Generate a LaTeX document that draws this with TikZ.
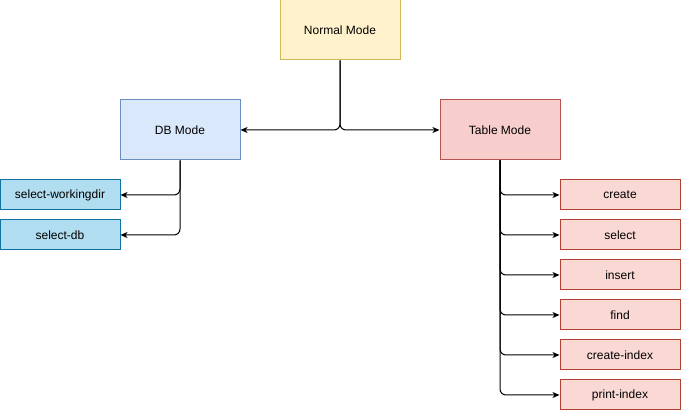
\documentclass[tikz,border=0pt]{standalone}
\usepackage{fontspec}
\setmainfont{Liberation Sans}
\usetikzlibrary{arrows.meta}
\definecolor{nmfill}{HTML}{FFF2CC}\definecolor{nmdraw}{HTML}{D6B656}
\definecolor{dbfill}{HTML}{DAE8FC}\definecolor{dbdraw}{HTML}{6C8EBF}
\definecolor{tmfill}{HTML}{F8CECC}\definecolor{tmdraw}{HTML}{B85450}
\definecolor{dsfill}{HTML}{B1DDF0}\definecolor{dsdraw}{HTML}{10739E}
\definecolor{tsfill}{HTML}{FAD9D5}\definecolor{tsdraw}{HTML}{AE4132}
\begin{document}
\begin{tikzpicture}[x=1pt,y=-1pt,
  box/.style={draw,line width=1pt,inner sep=0pt,font=\fontsize{12}{14}\selectfont},
  mode/.style={box,minimum width=120pt,minimum height=60pt},
  sub/.style={box,minimum width=120pt,minimum height=30pt},
  arr/.style={line width=1pt,rounded corners=6pt,-{Stealth[length=7pt,width=6pt,inset=2pt]}}]
\useasboundingbox (0,0) rectangle (681,411);
\node[mode,fill=nmfill,draw=nmdraw] (nm) at (340,30) {Normal Mode};
\node[mode,fill=dbfill,draw=dbdraw] (db) at (180,130) {DB Mode};
\node[mode,fill=tmfill,draw=tmdraw] (tm) at (500,130) {Table Mode};
\node[sub,fill=dsfill,draw=dsdraw] (wd) at (60,195) {select-workingdir};
\node[sub,fill=dsfill,draw=dsdraw] (sdb) at (60,235) {select-db};
\node[sub,fill=tsfill,draw=tsdraw] (c1) at (620,195) {create};
\node[sub,fill=tsfill,draw=tsdraw] (c2) at (620,235) {select};
\node[sub,fill=tsfill,draw=tsdraw] (c3) at (620,275) {insert};
\node[sub,fill=tsfill,draw=tsdraw] (c4) at (620,315) {find};
\node[sub,fill=tsfill,draw=tsdraw] (c5) at (620,355) {create-index};
\node[sub,fill=tsfill,draw=tsdraw] (c6) at (620,395) {print-index};
\draw[arr] (nm.south) |- (db.east);
\draw[arr] (nm.south) |- (tm.west);
\draw[arr] (db.south) |- (wd.east);
\draw[arr] (db.south) |- (sdb.east);
\foreach \n in {c1,c2,c3,c4,c5,c6}{\draw[arr] (tm.south) |- (\n.west);}
\end{tikzpicture}
\end{document}
